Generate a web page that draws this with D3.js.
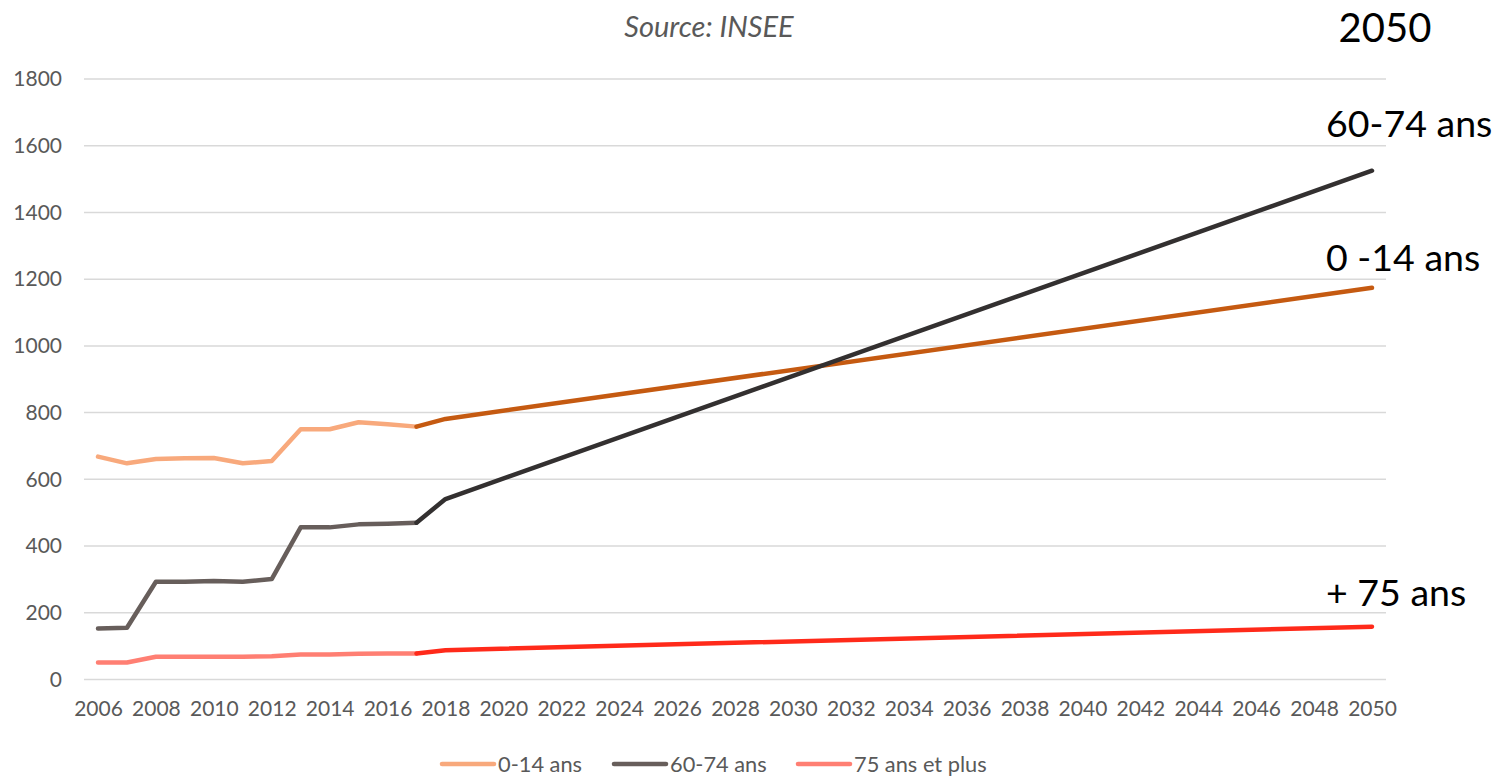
<!DOCTYPE html>
<html>
<head>
<meta charset="utf-8">
<script src="https://cdn.jsdelivr.net/npm/d3@7"></script>
<style>
body { margin: 0; background: #fff; }
svg { font-family: Lato, "Open Sans", sans-serif; }
</style>
</head>
<body>
<div id="chart"></div>
<script>
// historic years (observed)
var histYears = [2006, 2007, 2008, 2009, 2010, 2011, 2012, 2013, 2014, 2015, 2016, 2017];
var hist014 = [668, 648, 661, 663, 664, 648, 655, 750, 750, 771, 765, 758];
var hist6074 = [153, 155, 293, 293, 295, 293, 301, 456, 456, 465, 467, 470];
var hist75 = [51, 51, 68, 68, 68, 68, 70, 75, 75, 77, 78, 78];

// projection (starts from last observed year)
var projYears = [2017, 2018, 2050];
var proj014 = [758, 781, 1174];
var proj6074 = [470, 541, 1525];
var proj75 = [78, 88, 158];

var yTicks = [0, 200, 400, 600, 800, 1000, 1200, 1400, 1600, 1800];
var xTicks = d3.range(2006, 2051, 2);
var legendLabels = ["0-14 ans", "60-74 ans", "75 ans et plus"];
var endLabels = ["60-74 ans", "0 -14 ans", "+ 75 ans"];

var width = 1498, height = 776;
var svg = d3.select("#chart").append("svg")
    .attr("width", width)
    .attr("height", height);

var x = d3.scaleLinear().domain([2006, 2050]).range([98, 1372]);
var y = d3.scaleLinear().domain([0, 1800]).range([679.5, 79]);

// gridlines
svg.append("g")
    .selectAll("line")
    .data(yTicks).enter().append("line")
    .attr("x1", 84).attr("x2", 1386)
    .attr("y1", function(d){ return y(d); })
    .attr("y2", function(d){ return y(d); })
    .attr("stroke", "#d9d9d9")
    .attr("stroke-width", 1.5);

// y labels
var yAxis = d3.axisLeft(y).tickValues(yTicks).tickFormat(d3.format("d")).tickSize(0).tickPadding(0);
svg.append("g")
    .attr("transform", "translate(62,0)")
    .call(yAxis)
    .call(function(g){ g.select(".domain").remove(); })
    .selectAll("text")
    .attr("font-size", 21)
    .attr("font-family", "Lato, sans-serif")
    .attr("fill", "#595959");

// x labels
var xAxis = d3.axisBottom(x).tickValues(xTicks).tickFormat(d3.format("d")).tickSize(0).tickPadding(0);
svg.append("g")
    .attr("transform", "translate(0,701)")
    .call(xAxis)
    .call(function(g){ g.select(".domain").remove(); })
    .selectAll("text")
    .attr("font-size", 21)
    .attr("font-family", "Lato, sans-serif")
    .attr("fill", "#595959");

var line = d3.line()
    .x(function(d){ return x(d[0]); })
    .y(function(d){ return y(d[1]); });

var series = [
    { years: histYears, values: hist014, color: "#f8a97c" },
    { years: histYears, values: hist6074, color: "#675e5b" },
    { years: histYears, values: hist75, color: "#ff7f73" },
    { years: projYears, values: proj014, color: "#c55a11" },
    { years: projYears, values: proj6074, color: "#333030" },
    { years: projYears, values: proj75, color: "#ff2a1a" }
];

svg.append("g")
    .selectAll("path")
    .data(series).enter().append("path")
    .attr("d", function(s){ return line(s.years.map(function(yr, i){ return [yr, s.values[i]]; })); })
    .attr("fill", "none")
    .attr("stroke", function(s){ return s.color; })
    .attr("stroke-width", 4.5)
    .attr("stroke-linejoin", "round")
    .attr("stroke-linecap", "round");

// title / source
svg.append("text")
    .attr("x", 709).attr("y", 37)
    .attr("text-anchor", "middle")
    .attr("font-style", "italic")
    .attr("font-size", 29)
    .attr("fill", "#595959")
    .text("Source: INSEE");

svg.append("text")
    .attr("x", 1385).attr("y", 42)
    .attr("text-anchor", "middle")
    .attr("font-size", 40)
    .attr("fill", "#000")
    .text("2050");

// end labels
var endY = [137, 271, 606];
svg.append("g")
    .selectAll("text")
    .data(endLabels).enter().append("text")
    .attr("x", 1326)
    .attr("y", function(d, i){ return endY[i]; })
    .attr("font-size", 37.5)
    .attr("fill", "#000")
    .text(function(d){ return d; });

// legend
var legendColors = ["#f8a97c", "#675e5b", "#ff7f73"];
var legendX = [442, 614, 798];
var lg = svg.append("g").selectAll("g")
    .data(legendLabels).enter().append("g")
    .attr("transform", function(d, i){ return "translate(" + legendX[i] + ",764)"; });
lg.append("line")
    .attr("x1", 0).attr("x2", 52)
    .attr("stroke", function(d, i){ return legendColors[i]; })
    .attr("stroke-width", 4.5)
    .attr("stroke-linecap", "round");
lg.append("text")
    .attr("x", 56).attr("y", 7.5)
    .attr("font-size", 21.8)
    .attr("fill", "#595959")
    .text(function(d){ return d; });
</script>
</body>
</html>
